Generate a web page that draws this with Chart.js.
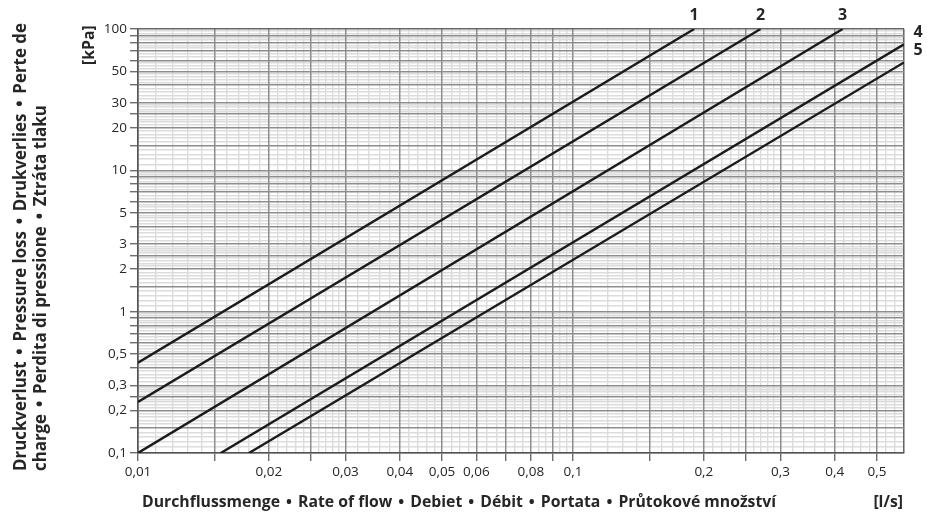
<!DOCTYPE html>
<html><head><meta charset="utf-8">
<script src="https://cdn.jsdelivr.net/npm/chart.js@4/dist/chart.umd.min.js"></script>
<style>html,body{margin:0;padding:0;background:#fff}#wrap{width:927px;height:521px;position:relative}</style>
</head><body><div id="wrap"><canvas id="c" width="927" height="521"></canvas></div>
<script>
// ---- data ----
const curveNames = ['1', '2', '3', '4', '5'];
const curve1X = [0.01, 0.19];   const curve1Y = [0.435, 100];
const curve2X = [0.01, 0.27];   const curve2Y = [0.23, 100];
const curve3X = [0.01, 0.417];  const curve3Y = [0.1, 100];
const curve4X = [0.0155, 0.577]; const curve4Y = [0.1, 78];
const curve5X = [0.018, 0.577];  const curve5Y = [0.1, 58];

const xMin = 0.01, xMax = 0.577;
const yMin = 0.1,  yMax = 100;
const xTickLabels = [0.01, 0.02, 0.03, 0.04, 0.05, 0.06, 0.08, 0.1, 0.2, 0.3, 0.4, 0.5];
const yTickLabels = [0.1, 0.2, 0.3, 0.5, 1, 2, 3, 5, 10, 20, 30, 50, 100];
const majorSteps = [1, 1.5, 2, 2.5, 3, 4, 5, 6, 7, 8, 9];
const minorSteps = [1.1, 1.2, 1.3, 1.4, 1.6, 1.7, 1.8, 1.9, 2.1, 2.2, 2.3, 2.4, 2.6, 2.7, 2.8, 2.9,
  3.2, 3.4, 3.6, 3.8, 4.2, 4.4, 4.6, 4.8, 5.25, 5.5, 5.75, 6.333, 6.667, 7.333, 7.667, 8.333, 8.667, 9.333, 9.667];
const xDecades = [0.01, 0.1];
const yDecades = [0.1, 1, 10, 100];

const xTitleParts = ['Durchflussmenge', 'Rate of flow', 'Debiet', 'Débit', 'Portata', 'Průtokové množství'];
const xUnit = '[l/s]';
const yTitle1Parts = ['Druckverlust', 'Pressure loss', 'Drukverlies', 'Perte de'];
const yTitle2Parts = ['charge', 'Perdita di pressione', 'Ztráta tlaku'];
const yUnit = '[kPa]';

// ---- helpers ----
function gridValues(decades, steps, lo, hi) {
  const out = [];
  decades.forEach(d => steps.forEach(s => {
    const v = parseFloat((d * s).toPrecision(6));
    if (v >= lo * 0.9999 && v <= hi * 1.0001) out.push(v);
  }));
  return out.sort((a, b) => a - b);
}
const same = (a, b) => Math.abs(a - b) / b < 1e-6;
const inList = (v, list) => list.some(l => same(v, l));
const xMajor = gridValues(xDecades, majorSteps, xMin, xMax).concat([xMax]);
const yMajor = gridValues(yDecades, majorSteps, yMin, yMax);
const xMinor = gridValues(xDecades, minorSteps, xMin, xMax);
const yMinor = gridValues(yDecades, minorSteps, yMin, yMax);
const fmt = v => String(v).replace('.', ',');
const pts = (xs, ys) => xs.map((x, i) => ({x: x, y: ys[i]}));

const MAJOR = '#8d8d8d', MINOR = '#dcdcdc', AXIS = '#555555', TXT = '#262626';
const FONT = '"Open Sans", "Noto Sans", sans-serif';

const series = [pts(curve1X, curve1Y), pts(curve2X, curve2Y), pts(curve3X, curve3Y), pts(curve4X, curve4Y), pts(curve5X, curve5Y)];

// draws parts separated by bullets with a fixed gap, starting at (0,0) along +x
function drawParts(c, parts, gap) {
  let x = 0;
  parts.forEach((p, i) => {
    c.fillText(p, x, 0);
    x += c.measureText(p).width;
    if (i < parts.length - 1) {
      c.save(); c.textAlign = 'center'; c.fillText('•', x + gap / 2, 0); c.restore();
      x += gap;
    }
  });
}

const textPlugin = {
  id: 'texts',
  afterDraw(chart) {
    const c = chart.ctx, xs = chart.scales.x, ys = chart.scales.y;
    c.save();
    c.fillStyle = TXT;
    // curve labels
    c.font = 'bold 16px ' + FONT;
    c.textBaseline = 'middle';
    series.forEach((s, i) => {
      const e = s[s.length - 1];
      const px = xs.getPixelForValue(e.x), py = ys.getPixelForValue(e.y);
      c.textAlign = 'center';
      if (e.y >= yMax * 0.999) c.fillText(curveNames[i], px, 15);
      else c.fillText(curveNames[i], 918, py - 12);
    });
    // title font size: fit the first word to the reference width
    c.font = 'bold 14px ' + FONT;
    const fs = 14 * 138 / c.measureText(xTitleParts[0]).width;
    c.font = 'bold ' + fs.toFixed(2) + 'px ' + FONT;
    c.textAlign = 'left'; c.textBaseline = 'middle';
    c.save(); c.translate(142, 503); drawParts(c, xTitleParts, 18); c.restore();
    c.textAlign = 'right';
    c.fillText(xUnit, 903, 503);
    c.textAlign = 'left';
    c.save(); c.translate(90, 65); c.rotate(-Math.PI / 2); c.fillText(yUnit, 0, 0); c.restore();
    const fy = fs * 1.07;
    c.font = 'bold ' + fy.toFixed(2) + 'px ' + FONT;
    c.save(); c.translate(21, 471); c.rotate(-Math.PI / 2); drawParts(c, yTitle1Parts, 20); c.restore();
    c.save(); c.translate(41, 471); c.rotate(-Math.PI / 2); drawParts(c, yTitle2Parts, 20); c.restore();
    c.restore();
  }
};

new Chart(document.getElementById('c'), {
  type: 'scatter',
  data: {
    datasets: series.map((s, i) => ({
      label: curveNames[i], data: s, showLine: true, borderColor: '#1b1b1b', borderWidth: 2.4,
      pointRadius: 0, pointHoverRadius: 0, xAxisID: 'x', yAxisID: 'y'
    }))
  },
  options: {
    responsive: false, animation: false, events: [],
    layout: {padding: {left: 0, right: 23, top: 29, bottom: 0}},
    plugins: {legend: {display: false}, tooltip: {enabled: false}, title: {display: false}},
    scales: {
      xMin: {
        type: 'logarithmic', position: 'top', min: xMin, max: xMax,
        afterBuildTicks: s => { s.ticks = xMinor.map(v => ({value: v})); },
        afterFit: s => { s.height = 0; },
        ticks: {display: false, autoSkip: false},
        grid: {color: MINOR, lineWidth: 1.4, drawTicks: false, z: -2},
        border: {display: false}
      },
      yMin: {
        type: 'logarithmic', position: 'right', min: yMin, max: yMax,
        afterBuildTicks: s => { s.ticks = yMinor.map(v => ({value: v})); },
        afterFit: s => { s.width = 0; },
        ticks: {display: false, autoSkip: false},
        grid: {color: MINOR, lineWidth: 1.4, drawTicks: false, z: -2},
        border: {display: false}
      },
      x: {
        type: 'logarithmic', position: 'bottom', min: xMin, max: xMax,
        afterBuildTicks: s => { s.ticks = xMajor.map(v => ({value: v})); },
        afterFit: s => { s.height = 68; },
        ticks: {
          autoSkip: false, maxRotation: 0, minRotation: 0, padding: 3, color: TXT,
          font: {family: FONT, size: 13.5},
          callback: v => inList(v, xTickLabels) ? fmt(v) : ''
        },
        grid: {
          z: -1, tickLength: 8,
          color: ctx => (ctx.tick && (same(ctx.tick.value, xMax))) ? '#666666' : MAJOR,
          lineWidth: 1.5,
          tickColor: ctx => (ctx.tick && same(ctx.tick.value, xMax)) ? 'rgba(0,0,0,0)' : AXIS,
          tickWidth: 1.2
        },
        border: {color: AXIS, width: 1.6}
      },
      y: {
        type: 'logarithmic', position: 'left', min: yMin, max: yMax,
        afterBuildTicks: s => { s.ticks = yMajor.map(v => ({value: v})); },
        afterFit: s => { s.width = 138; },
        ticks: {
          autoSkip: false, padding: 3, color: TXT,
          font: {family: FONT, size: 13.5},
          callback: v => inList(v, yTickLabels) ? fmt(v) : ''
        },
        grid: {
          z: -1, tickLength: 8,
          color: ctx => (ctx.tick && same(ctx.tick.value, yMax)) ? '#666666' : MAJOR,
          lineWidth: 1.5, tickColor: AXIS, tickWidth: 1.2
        },
        border: {color: AXIS, width: 1.6}
      }
    }
  },
  plugins: [textPlugin]
});
</script>
</body></html>
